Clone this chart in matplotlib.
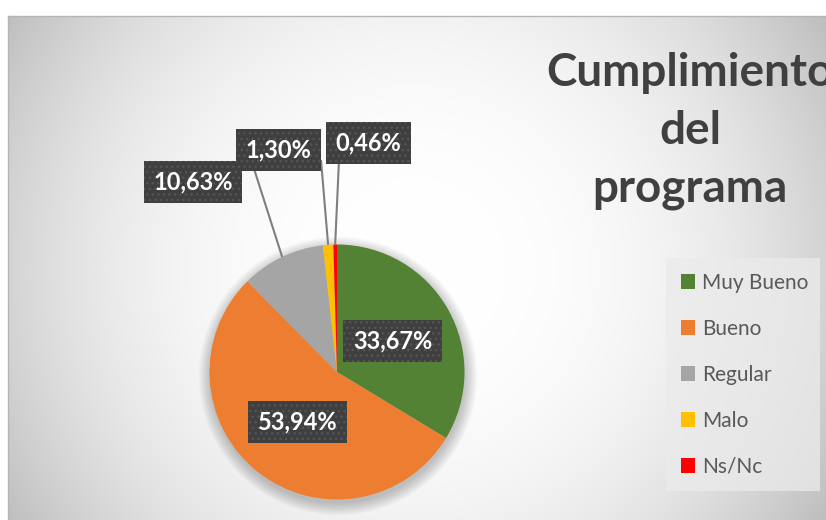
import numpy as np
import matplotlib
matplotlib.use("Agg")
import matplotlib.pyplot as plt
from matplotlib.patches import Patch, Circle

plt.rcParams['font.family'] = ['Lato', 'DejaVu Sans']

# data
categories = ['Muy Bueno', 'Bueno', 'Regular', 'Malo', 'Ns/Nc']
percent = [33.67, 53.94, 10.63, 1.30, 0.46]
colors = ['#548235', '#ED7D31', '#A5A5A5', '#FFC000', '#FF0000']
title = 'Cumplimiento\ndel\nprograma'

W, H = 826, 520
fig = plt.figure(figsize=(W / 100, H / 100), dpi=100)

# chart area background (radial gradient)
bg = fig.add_axes([8 / W, 0, (W - 8) / W, (H - 16) / H])
yy, xx = np.mgrid[16:H, 8:W]
r = np.hypot(xx - 415, yy - 268)
v = 255 - 13 * (r / 252.0) ** 2.5
v = np.clip(v, 180, 255) / 255.0
bg.imshow(np.dstack([v, v, v]), aspect='auto', extent=(0, 1, 0, 1))
bg.set_xticks([])
bg.set_yticks([])
for s in ['right', 'bottom']:
    bg.spines[s].set_visible(False)
for s in ['top', 'left']:
    bg.spines[s].set_color('#b5b5b5')
    bg.spines[s].set_linewidth(1)

# pie in pixel coordinates
ax = fig.add_axes([0, 0, 1, 1])
ax.patch.set_alpha(0)
cx, cy, rad = 337, H - 372, 127.5

for k in range(10):
    ax.add_patch(Circle((cx + 1, cy - 4), rad + k * 1.3, color='black',
                        alpha=0.022, lw=0, zorder=0.5))

wedges, _ = ax.pie(percent, colors=colors, startangle=90, counterclock=False,
                   center=(cx, cy), radius=rad,
                   wedgeprops=dict(linewidth=0, zorder=1))
ax.set_xlim(0, W)
ax.set_ylim(0, H)
ax.set_aspect('auto')
ax.axis('off')

def rim(i, frac=1.0):
    w = wedges[i]
    a = np.deg2rad((w.theta1 + w.theta2) / 2)
    return cx + frac * rad * np.cos(a), cy + frac * rad * np.sin(a)

box = dict(boxstyle='square,pad=0.4', fc='#3f3f3f', ec='#555555', lw=0, hatch='...')

def label(x, y, txt):
    ax.text(x, y, txt, ha='center', va='center', fontsize=17, fontweight='bold',
            color='white', bbox=box, zorder=4)

fmt = lambda p: f'{p:.2f}%'.replace('.', ',')

# inside labels
for i in [0, 1]:
    x, y = rim(i, 0.5)
    label(x, y, fmt(percent[i]))

# outside labels with leader lines
outer_pos = {2: (193, H - 182), 3: (278.5, H - 150), 4: (368.5, H - 143)}
line_start = {2: (248, H - 150), 3: (321, H - 160), 4: (339, H - 160)}
for i, (x, y) in outer_pos.items():
    sx, sy = line_start[i]
    ex, ey = rim(i)
    ax.plot([sx, ex], [sy, ey], color='#7f7f7f', lw=1.5, zorder=2,
            solid_capstyle='butt')
    label(x, y, fmt(percent[i]))

# title
fig.text(690 / W, 1 - 131 / H, title, ha='center', va='center', fontsize=33,
         fontweight='bold', color='#404040', linespacing=1.45)

# legend
handles = [Patch(facecolor=c, edgecolor='none') for c in colors]
leg = fig.legend(handles, categories, loc='upper left',
                 bbox_to_anchor=(666 / W, 1 - 258 / H, (820 - 666) / W, 0),
                 mode='expand', frameon=True, fancybox=False,
                 facecolor='#ebebeb', edgecolor='none', framealpha=0.75,
                 fontsize=15, labelcolor='#595959', handlelength=0.7,
                 handleheight=0.7, handletextpad=0.35, labelspacing=1.25,
                 borderpad=0.7, borderaxespad=0)

fig.savefig('out.png', dpi=100)
